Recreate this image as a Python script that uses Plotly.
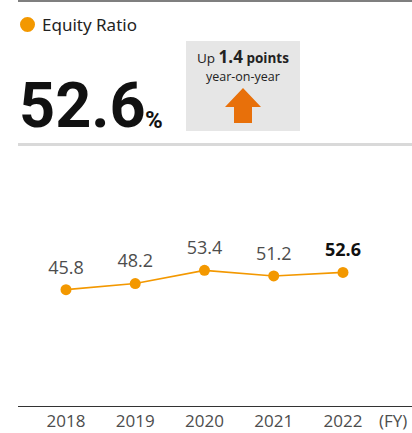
import plotly.graph_objects as go

years = ["2018", "2019", "2020", "2021", "2022"]
equity_ratio = [45.8, 48.2, 53.4, 51.2, 52.6]
latest_value = "52.6"
change_text = "1.4"
title_text = "Equity Ratio"

W, H = 412, 433
ML, MR, MT, MB = 18, 0, 152, 27
PW, PH = W - ML - MR, H - MT - MB

def px(x):
    return (x - ML) / PW

def py(y):
    return (H - MB - y) / PH

ORANGE = "#f39800"
ARROW = "#e8700a"
GRAY_TXT = "#4d4d4d"

n = len(years)
text_labels = [f"<b>{v}</b>" if i == n - 1 else f"{v}" for i, v in enumerate(equity_ratio)]
text_colors = ["#111111" if i == n - 1 else GRAY_TXT for i in range(n)]

fig = go.Figure()
fig.add_trace(go.Scatter(
    x=list(range(n)), y=equity_ratio,
    mode="lines+markers",
    line=dict(color=ORANGE, width=1.6),
    marker=dict(color=ORANGE, size=11),
    cliponaxis=False, hoverinfo="skip",
))
# value labels, pushed up by an invisible larger marker
fig.add_trace(go.Scatter(
    x=list(range(n)), y=equity_ratio,
    mode="markers+text",
    marker=dict(color="rgba(0,0,0,0)", size=17),
    text=text_labels, textposition="top center",
    textfont=dict(family="Open Sans", size=18, color=text_colors),
    cliponaxis=False, hoverinfo="skip",
))

shapes = [
    dict(type="line", xref="paper", yref="paper", x0=px(18), x1=px(412), y0=py(1), y1=py(1),
         line=dict(color="#555555", width=1.5)),
    dict(type="line", xref="paper", yref="paper", x0=px(18), x1=px(412), y0=py(144.5), y1=py(144.5),
         line=dict(color="#d9d9d9", width=3)),
    dict(type="circle", xref="paper", yref="paper", x0=px(20), x1=px(35), y0=py(17), y1=py(32),
         fillcolor=ORANGE, line=dict(width=0)),
    dict(type="rect", xref="paper", yref="paper", x0=px(186), x1=px(300), y0=py(41), y1=py(131),
         fillcolor="#e6e6e6", line=dict(width=0), layer="below"),
    dict(type="path", xref="paper", yref="paper",
         path=(f"M {px(243)} {py(88)} L {px(261)} {py(107)} L {px(252)} {py(107)} "
               f"L {px(252)} {py(123)} L {px(234)} {py(123)} L {px(234)} {py(107)} "
               f"L {px(225)} {py(107)} Z"),
         fillcolor=ARROW, line=dict(width=0)),
]

annotations = [
    dict(text=title_text, xref="paper", yref="paper", x=px(40), y=py(24), xanchor="left", yanchor="middle",
         showarrow=False, font=dict(family="Noto Sans", size=17, color="#222222")),
    dict(text=f"<b>{latest_value}</b>", xref="paper", yref="paper", x=px(17), y=py(131), xanchor="left",
         yanchor="bottom", showarrow=False, yshift=-13,
         font=dict(family="Roboto", size=63, color="#111111")),
    dict(text="<b>%</b>", xref="paper", yref="paper", x=px(143), y=py(131), xanchor="left",
         yanchor="bottom", showarrow=False, yshift=-5,
         font=dict(family="Roboto", size=24, color="#111111")),
    dict(text=(f"Up <b><span style='font-size:17px'>{change_text}</span> points</b>"
               f"<br><span style='font-size:12.5px'>year-on-year</span>"),
         xref="paper", yref="paper", x=px(243), y=py(65), xanchor="center", yanchor="middle",
         showarrow=False, font=dict(family="Open Sans", size=13.5, color="#222222")),
    dict(text="(FY)", xref="paper", yref="paper", x=px(377), y=py(420), xanchor="left", yanchor="middle",
         showarrow=False, font=dict(family="Open Sans", size=17, color=GRAY_TXT)),
]

fig.update_layout(
    width=W, height=H, margin=dict(l=ML, r=MR, t=MT, b=MB),
    paper_bgcolor="white", plot_bgcolor="white", showlegend=False,
    shapes=shapes, annotations=annotations,
    xaxis=dict(range=[-0.693, 4.997], tickvals=list(range(n)), ticktext=years,
               showgrid=False, zeroline=False, showline=True, linecolor="#333333", linewidth=1,
               ticks="", tickfont=dict(family="Open Sans", size=17, color=GRAY_TXT), fixedrange=True),
    yaxis=dict(range=[0, 100], visible=False, fixedrange=True),
)

fig.write_html("out.html", config={"displayModeBar": False},
               post_script="document.body.style.margin='0';document.body.style.overflow='hidden';")
